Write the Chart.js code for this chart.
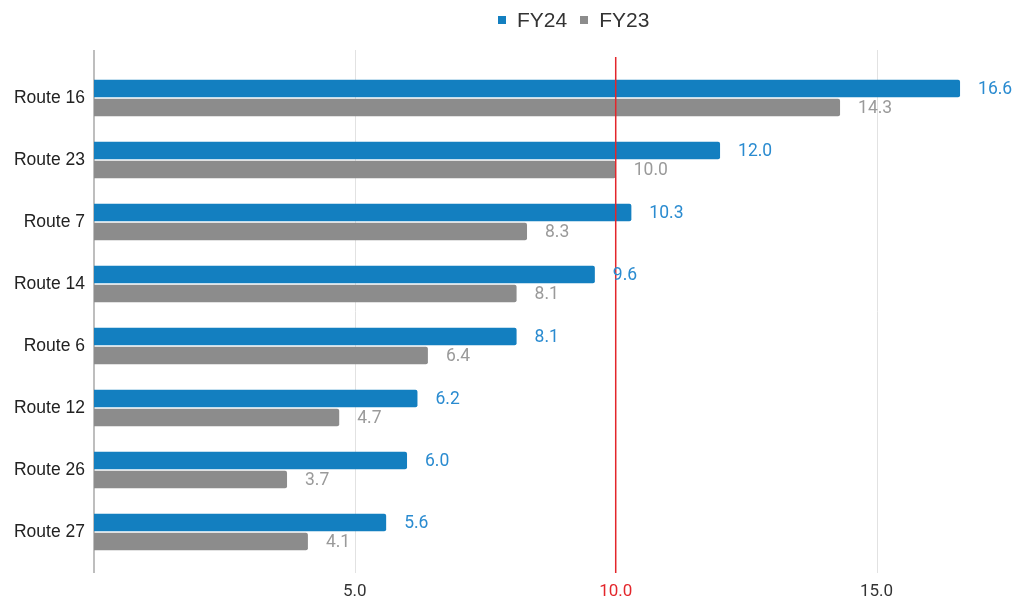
<!DOCTYPE html>
<html>
<head>
<meta charset="utf-8">
<script src="https://cdn.jsdelivr.net/npm/chart.js@4.4.1/dist/chart.umd.min.js"></script>
<style>
  html, body { margin: 0; padding: 0; background: #fff; }
  #wrap { position: relative; width: 1016px; height: 601px; }
  #legend { position: absolute; top: 8px; left: 498px; display: flex; align-items: center;
            font-family: "Liberation Sans", Arial, sans-serif; font-size: 21px; color: #333; }
  #legend span.box { display: inline-block; width: 8px; height: 8px; margin-right: 11px; }
  #legend span.item { display: flex; align-items: center; margin-right: 13px; }
</style>
</head>
<body>
<div id="wrap">
  <canvas id="routeChart" width="1016" height="601"></canvas>
  <div id="legend"></div>
</div>
<script>
const routes = ["Route 16", "Route 23", "Route 7", "Route 14", "Route 6", "Route 12", "Route 26", "Route 27"];
const fy24 = [16.6, 12.0, 10.3, 9.6, 8.1, 6.2, 6.0, 5.6];
const fy23 = [14.3, 10.0, 8.3, 8.1, 6.4, 4.7, 3.7, 4.1];
const xTicks = [5, 10, 15];
const target = 10;

const BLUE = "#137fc0";
const GRAY = "#8c8c8c";
const RED = "#e3262b";

// legend in html so it can sit where it sits
const legendItems = [["FY24", BLUE], ["FY23", GRAY]];
document.getElementById("legend").innerHTML = legendItems
  .map(([name, col]) => `<span class="item"><span class="box" style="background:${col}"></span>${name}</span>`)
  .join("");

// grid lines run a little past the plot area, target line goes over the bars
const gridPlugin = {
  id: "gridLines",
  beforeDatasetsDraw(chart) {
    const { ctx, chartArea, scales } = chart;
    const x = scales.x;
    ctx.save();
    ctx.lineWidth = 1;
    ctx.strokeStyle = "#e2e2e2";
    xTicks.forEach((v) => {
      if (v === target) return;
      const px = Math.round(x.getPixelForValue(v)) + 0.5;
      ctx.beginPath();
      ctx.moveTo(px, chartArea.top - 17);
      ctx.lineTo(px, chartArea.bottom + 10);
      ctx.stroke();
    });
    ctx.strokeStyle = "#a8a8a8";
    ctx.lineWidth = 1.5;
    const x0 = x.getPixelForValue(0);
    ctx.beginPath();
    ctx.moveTo(x0, chartArea.top - 17);
    ctx.lineTo(x0, chartArea.bottom + 10);
    ctx.stroke();
    ctx.restore();
  },
  afterDatasetsDraw(chart) {
    const { ctx, chartArea, scales } = chart;
    const px = scales.x.getPixelForValue(target);
    ctx.save();
    ctx.strokeStyle = RED;
    ctx.lineWidth = 1.5;
    ctx.beginPath();
    ctx.moveTo(px, chartArea.top - 10);
    ctx.lineTo(px, chartArea.bottom + 10);
    ctx.stroke();
    ctx.restore();
  }
};

// value labels to the right of each bar
const valueLabels = {
  id: "valueLabels",
  afterDraw(chart) {
    const { ctx } = chart;
    ctx.save();
    ctx.font = "17.5px Roboto, sans-serif";
    ctx.textBaseline = "middle";
    ctx.textAlign = "left";
    chart.data.datasets.forEach((ds, i) => {
      ctx.fillStyle = ds.labelColor;
      chart.getDatasetMeta(i).data.forEach((bar, j) => {
        ctx.fillText(ds.data[j].toFixed(1), bar.x + 18, bar.y + 1);
      });
    });
    ctx.restore();
  }
};

new Chart(document.getElementById("routeChart"), {
  type: "bar",
  data: {
    labels: routes,
    datasets: [
      { label: "FY24", data: fy24, backgroundColor: BLUE, labelColor: "#2a8bd0",
        borderRadius: 2, borderSkipped: "start" },
      { label: "FY23", data: fy23, backgroundColor: GRAY, labelColor: "#9a9a9a",
        borderRadius: 2, borderSkipped: "start" }
    ]
  },
  options: {
    indexAxis: "y",
    responsive: false,
    animation: false,
    categoryPercentage: 0.61,
    barPercentage: 0.93,
    layout: { padding: { top: 67, right: 9, bottom: 0, left: 0 } },
    plugins: {
      legend: { display: false },
      tooltip: { enabled: false }
    },
    scales: {
      x: {
        min: 0,
        max: 17.5,
        afterBuildTicks(scale) {
          scale.ticks = xTicks.map((v) => ({ value: v }));
        },
        afterFit(scale) { scale.height = 38; },
        grid: { display: false },
        border: { display: false },
        ticks: {
          padding: 11,
          font: { family: "Roboto", size: 17 },
          color: (c) => (c.tick && c.tick.value === target ? RED : "#333"),
          callback: (v) => Number(v).toFixed(1)
        }
      },
      y: {
        afterFit(scale) { scale.width = 94; },
        grid: { display: false },
        border: { display: false },
        ticks: {
          padding: 1,
          font: { family: "Liberation Sans", size: 17.5 },
          color: "#222"
        }
      }
    }
  },
  plugins: [gridPlugin, valueLabels]
});
</script>
</body>
</html>
